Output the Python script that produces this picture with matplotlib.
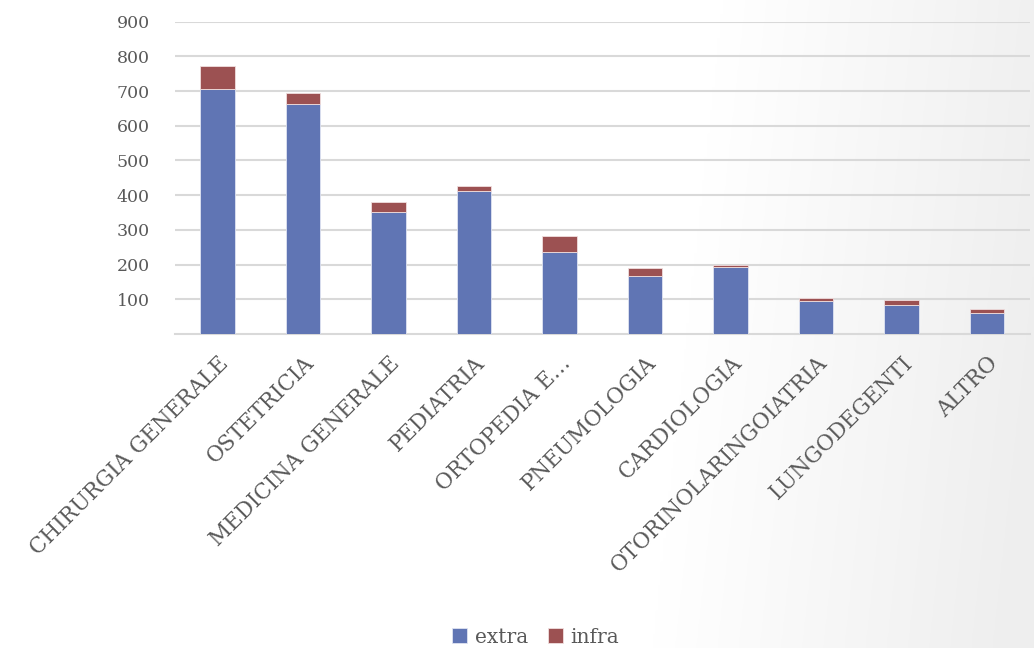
import numpy as np
import matplotlib
matplotlib.use("Agg")
import matplotlib.pyplot as plt

# dati
reparti = ['CHIRURGIA GENERALE', 'OSTETRICIA', 'MEDICINA GENERALE', 'PEDIATRIA',
           'ORTOPEDIA E…', 'PNEUMOLOGIA', 'CARDIOLOGIA', 'OTORINOLARINGOIATRIA',
           'LUNGODEGENTI', 'ALTRO']
extra = [705, 664, 351, 412, 235, 167, 193, 96, 83, 61]
infra = [66, 29, 30, 15, 46, 23, 7, 8, 16, 11]
yticks = [100, 200, 300, 400, 500, 600, 700, 800, 900]

plt.rcParams['font.family'] = ['DejaVu Serif']

fig = plt.figure(figsize=(10.34, 6.48), dpi=100)

# sfondo sfumato (bianco a sinistra, grigio chiaro a destra)
bg = fig.add_axes([0, 0, 1, 1], zorder=-10)
gx = np.linspace(0, 1, 400)
gy = np.linspace(0, 1, 250)
X, Y = np.meshgrid(gx, gy)
t = np.clip((X - 0.66) / 0.34 + 0.2 * (0.4 - Y), 0, 1)
val = 1.0 - 0.065 * t
bg.imshow(np.dstack([val, val, val]), extent=[0, 1, 0, 1], aspect='auto', origin='lower')
bg.axis('off')

ax = fig.add_axes([0.169, 0.4846, 0.827, 0.482])
ax.patch.set_alpha(0)

x = np.arange(len(reparti))
ax.bar(x, extra, width=0.4, color='#6075b4', edgecolor='#dfe4f2', linewidth=0.6, label='extra', zorder=3)
ax.bar(x, infra, width=0.4, bottom=extra, color='#9c5152', edgecolor='#f0dede', linewidth=0.6, label='infra', zorder=3)

ax.set_ylim(0, 900)
ax.set_xlim(-0.5, len(reparti) - 0.5)
ax.set_yticks(yticks)
ax.yaxis.grid(True, color='#d9d9d9', linewidth=1.5, zorder=0)
ax.set_axisbelow(True)
for s in ['top', 'right', 'left']:
    ax.spines[s].set_visible(False)
ax.spines['bottom'].set_color('#d9d9d9')
ax.spines['bottom'].set_linewidth(1.5)
ax.tick_params(axis='y', length=0, labelsize=12.5, labelcolor='#595959', pad=18)
ax.set_xticks(x)
ax.set_xticklabels(reparti, rotation=45, ha='right', rotation_mode='anchor')
ax.tick_params(axis='x', length=0, labelsize=15.5, labelcolor='#595959', pad=13)

fig.legend(loc='lower center', bbox_to_anchor=(0.518, -0.026), ncol=2, frameon=False,
           fontsize=14.5, labelcolor='#595959', handlelength=0.75, handleheight=0.75,
           handletextpad=0.35, columnspacing=1.0)

fig.savefig('out.png', dpi=100)
